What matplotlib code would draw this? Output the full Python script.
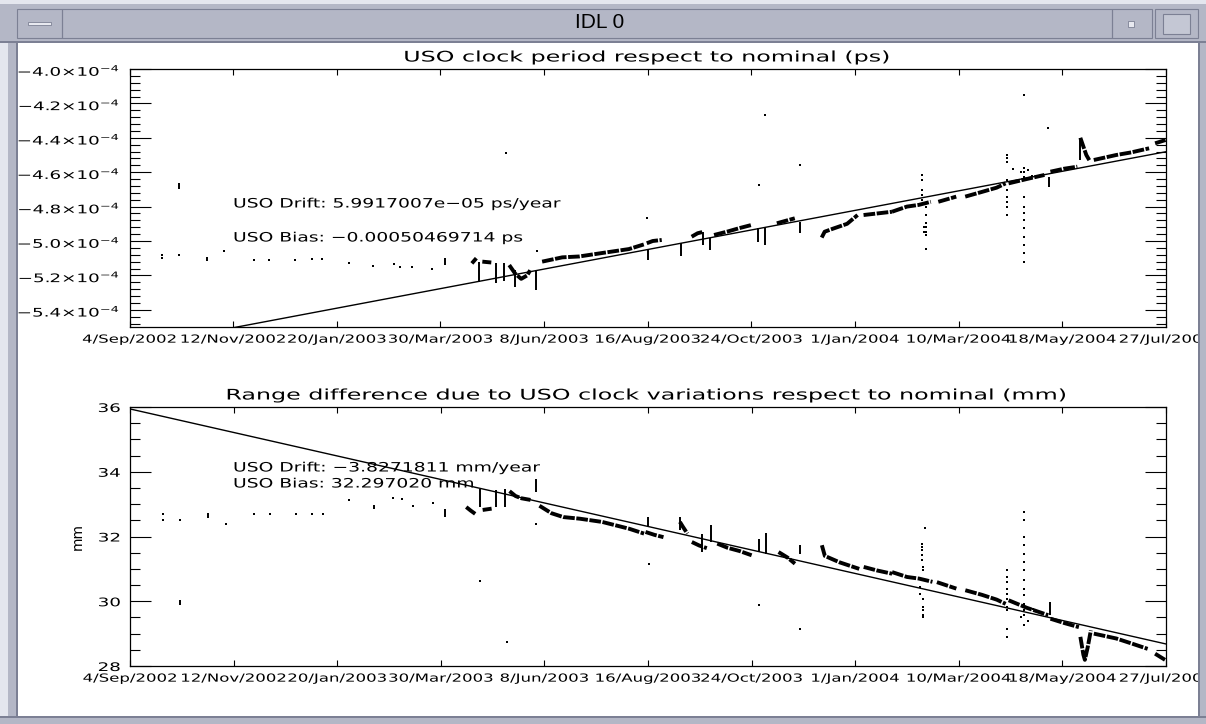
import numpy as np
import matplotlib
matplotlib.use('Agg')
import matplotlib.pyplot as plt
from matplotlib.patches import Rectangle
from matplotlib.transforms import Affine2D
from matplotlib.patheffects import AbstractPathEffect

# ------------------------------------------------------------------ data
XTICK_LABELS = ['4/Sep/2002', '12/Nov/2002', '20/Jan/2003', '30/Mar/2003',
                '8/Jun/2003', '16/Aug/2003', '24/Oct/2003', '1/Jan/2004',
                '10/Mar/2004', '18/May/2004', '27/Jul/2004']
X_SPAN_DAYS = 693.3          # days from 4/Sep/2002 to 27/Jul/2004

WINDOW_TITLE = 'IDL 0'
TOP_TITLE = 'USO clock period respect to nominal (ps)'
BOT_TITLE = 'Range difference due to USO clock variations respect to nominal (mm)'
TOP_NOTES = ['USO Drift: 5.9917007e\u221205 ps/year', 'USO Bias: \u22120.00050469714 ps']
BOT_NOTES = ['USO Drift: \u22123.8271811 mm/year', 'USO Bias: 32.297020 mm']
BOT_YLABEL = 'mm'

TOP_YTICKS = [-5.4, -5.2, -5.0, -4.8, -4.6, -4.4, -4.2, -4.0]   # units of 1e-4 ps
BOT_YTICKS = [28, 30, 32, 34, 36]

# --- top panel: clock period respect to nominal (units of 1e-4 ps)
TOP_PT_DAY = [0, 22, 22, 33, 63, 83, 93, 110.5, 122, 128.5, 147, 163, 177, 181,
              189, 202.5, 251.6, 272.8, 346, 421, 425, 448.5, 533, 614.5]
TOP_PT_VAL = [-5.072, -5.08, -5.10, -5.081, -5.056, -5.11, -5.11, -5.11, -5.106,
              -5.106, -5.13, -5.145, -5.134, -5.15, -5.15, -5.165, -4.49, -5.056,
              -4.868, -4.674, -4.267, -4.558, -5.048, -4.345]
TOP_SPIKE_DAY = [33, 52, 211, 233.8, 245, 250.5, 258, 271.7, 346.6, 368.7,
                 383.8, 388, 420.6, 425, 448.5, 615, 636]
TOP_SPIKE_LO = [-4.70, -5.115, -5.14, -5.237, -5.245, -5.23, -5.266, -5.285, -5.11,
                -5.09, -5.023, -5.052, -5.004, -5.023, -4.955, -4.684, -4.53]
TOP_SPIKE_HI = [-4.66, -5.095, -5.10, -5.12, -5.13, -5.13, -5.17, -5.17, -5.052,
                -5.01, -4.946, -4.985, -4.926, -4.917, -4.888, -4.626, -4.40]
TOP_SCAT_DAY = [530, 530, 530, 530, 530, 533, 533, 533, 533, 533, 533, 531.5, 531.5,
                587, 587, 587, 587, 587, 587, 587, 587, 587,
                598, 598, 598, 598, 598, 598, 598, 598, 598, 598, 598, 598, 598,
                591, 596, 601, 604]
TOP_SCAT_VAL = [-4.616, -4.645, -4.703, -4.733, -4.762, -4.80, -4.849, -4.897, -4.917,
                -4.946, -4.965, -4.92, -4.95,
                -4.50, -4.519, -4.539, -4.645, -4.703, -4.742, -4.772, -4.80, -4.849,
                -4.151, -4.577, -4.597, -4.626, -4.742, -4.80, -4.839, -4.878, -4.926,
                -4.975, -5.023, -5.072, -5.12,
                -4.58, -4.60, -4.59, -4.62]
TOP_SEGMENTS = [
    [(229, -5.13), (232, -5.10)],
    [(236, -5.12), (242, -5.125)],
    [(254, -5.14), (258, -5.19), (262, -5.22), (266, -5.20), (268, -5.17)],
    [(276, -5.12), (289.5, -5.095), (300.7, -5.09), (316, -5.07), (334, -5.047), (344, -5.02)],
    [(346, -5.013), (350, -5.00), (356, -4.994)],
    [(376, -4.975), (380, -4.955), (384, -4.946)],
    [(391, -4.965), (400, -4.945), (408, -4.925), (416, -4.907)],
    [(433, -4.897), (440, -4.88), (445, -4.868)],
    [(463, -4.98), (465, -4.946), (470, -4.93), (480, -4.90), (487, -4.849)],
    [(491, -4.849), (500, -4.84), (510, -4.83)],
    [(510, -4.83), (520, -4.80), (528, -4.79), (536, -4.772)],
    [(541, -4.772), (553, -4.742)],
    [(559, -4.742), (570, -4.715), (580, -4.69), (586, -4.665)],
    [(588, -4.665), (600, -4.64), (612, -4.616)],
    [(616, -4.597), (625, -4.58), (634, -4.568)],
    [(636, -4.40), (638, -4.45), (640, -4.50), (642, -4.53)],
    [(645, -4.529), (660, -4.50), (670, -4.485), (682, -4.461)],
    [(686, -4.432), (693, -4.413)],
]
TOP_FIT_DAY = [0, 693.3]
TOP_FIT_VAL = [-5.618, -4.481]

# --- bottom panel: range difference (mm)
BOT_PT_DAY = [0, 22, 22, 33.4, 64, 83, 94, 111, 122, 129, 146.7, 176, 182, 189.5,
              202.5, 234.5, 252, 272, 347, 420.6, 448.5]
BOT_PT_VAL = [32.45, 32.70, 32.50, 32.50, 32.38, 32.70, 32.68, 32.68, 32.68, 32.68,
              33.14, 33.20, 33.17, 32.93, 33.03, 30.62, 28.74, 32.38, 31.14, 29.87, 29.15]
BOT_SPIKE_DAY = [33.4, 52, 163, 211, 234.5, 245, 251, 272, 346.6, 368, 383, 388.6,
                 420.6, 425.6, 448.5, 615.5]
BOT_SPIKE_LO = [29.87, 32.57, 32.85, 32.60, 32.91, 32.91, 32.91, 33.37, 32.29, 32.20,
                31.52, 31.83, 31.52, 31.47, 31.47, 29.57]
BOT_SPIKE_HI = [30.05, 32.73, 32.97, 32.86, 33.48, 33.44, 33.48, 33.79, 32.60, 32.60,
                32.09, 32.35, 31.93, 32.11, 31.73, 29.98]
BOT_SCAT_DAY = [532, 530, 530, 530, 530, 530, 531, 531, 529, 529, 531, 531, 531, 531, 531,
                587, 587, 587, 587, 587, 587, 587, 587, 587, 587,
                598, 598, 598, 598, 598, 598, 598, 598, 598, 598, 598, 598, 598, 598,
                592, 596, 601, 604]
BOT_SCAT_VAL = [32.27, 31.78, 31.68, 31.57, 31.42, 31.26, 31.06, 30.95, 30.44, 30.23,
                30.08, 29.82, 29.72, 29.57, 29.51,
                30.95, 30.75, 30.59, 30.39, 30.23, 30.08, 29.82, 29.72, 29.15, 28.90,
                32.76, 32.50, 31.98, 31.73, 31.47, 31.21, 30.95, 30.65, 30.39, 30.18,
                29.92, 29.72, 29.57, 29.26,
                29.95, 29.50, 29.40, 29.75]
BOT_SEGMENTS = [
    [(225, 32.91), (228, 32.80), (231, 32.70)],
    [(236, 32.82), (242, 32.86)],
    [(254, 33.40), (258, 33.25), (262, 33.18), (268, 33.13)],
    [(274, 32.95), (282, 32.72), (290, 32.60), (301, 32.55), (316, 32.45), (334, 32.24), (344, 32.09)],
    [(345, 32.14), (351, 32.05), (357, 31.98)],
    [(368, 32.45), (370, 32.30), (373, 32.09)],
    [(376, 31.83), (381, 31.72), (386, 31.64)],
    [(393, 31.78), (400, 31.65), (408, 31.55), (416, 31.42)],
    [(434, 31.52), (440, 31.35), (445, 31.16)],
    [(463, 31.73), (465, 31.40), (475, 31.20), (488, 31.00)],
    [(491, 31.06), (500, 30.95), (510, 30.85)],
    [(510, 30.90), (520, 30.75), (528, 30.70), (537, 30.60)],
    [(540, 30.59), (553, 30.39)],
    [(559, 30.34), (570, 30.20), (580, 30.05), (586, 29.92)],
    [(588, 30.03), (600, 29.80), (614.5, 29.57)],
    [(616, 29.46), (625, 29.33), (635, 29.20)],
    [(636, 28.90), (638, 28.35), (639, 28.19), (641, 28.60), (643, 29.10)],
    [(645, 29.00), (660, 28.85), (670, 28.70), (681, 28.53)],
    [(686, 28.38), (693, 28.18)],
]
BOT_FIT_DAY = [0, 693.3]
BOT_FIT_VAL = [35.94, 28.68]

# ------------------------------------------------------------------ style helpers
W, H = 1206, 724
XTICK_SX = 1.49
YTICK_SX = 1.55
NOTE_SX = 1.45
TITLE_SX = 1.63
FRAME = '#b4b7c6'
FRAME_DARK = '#7c8094'
FRAME_LIGHT = '#e4e6ee'


class Stretch(AbstractPathEffect):
    """Horizontally widen glyphs (IDL vector-font look)."""
    def __init__(self, sx, anchor='left'):
        super().__init__()
        self.sx = sx
        self.anchor = anchor

    def draw_path(self, renderer, gc, tpath, affine, rgbFace=None):
        ext = tpath.get_extents()
        if self.anchor == 'center':
            a = 0.5 * (ext.x0 + ext.x1)
        elif self.anchor == 'right':
            a = ext.x1
        else:
            a = 0.0
        t = Affine2D().translate(-a, 0).scale(self.sx, 1.0).translate(a, 0) + affine
        renderer.draw_path(gc, tpath, t, rgbFace)


plt.rcParams['font.family'] = ['DejaVu Sans']
plt.rcParams['mathtext.fontset'] = 'dejavusans'

fig = plt.figure(figsize=(W / 100, H / 100), dpi=100)
fig.patch.set_facecolor('white')
PX = Affine2D().scale(1.0 / W, -1.0 / H).translate(0, 1) + fig.transFigure


def ax_rect(x0, y0, x1, y1):
    return [x0 / W, 1 - y1 / H, (x1 - x0) / W, (y1 - y0) / H]


def stext(x, y, s, size, sx, ha='left', va='center', **kw):
    t = fig.text(x, y, s, transform=PX, fontsize=size, ha=ha, va=va, color='k', **kw)
    t.set_path_effects([Stretch(sx, ha)])
    return t


ax1 = fig.add_axes(ax_rect(129.5, 69, 1166, 327))
ax2 = fig.add_axes(ax_rect(130, 407, 1166, 666))


def draw_panel(ax, pt_d, pt_v, sp_d, sp_lo, sp_hi, sc_d, sc_v, segs, fit_d, fit_v):
    ax.plot(fit_d, fit_v, color='k', lw=1.0)
    for seg in segs:
        d, v = zip(*seg)
        ax.plot(d, v, color='k', lw=2.8, solid_capstyle='butt', dashes=(3.0, 0.4))
    ax.vlines(sp_d, sp_lo, sp_hi, color='k', lw=1.4)
    ax.plot(pt_d, pt_v, ls='none', marker='s', ms=2.0, mew=0, color='k')
    ax.plot(sc_d, sc_v, ls='none', marker='s', ms=1.6, mew=0, color='k')


draw_panel(ax1, TOP_PT_DAY, TOP_PT_VAL, TOP_SPIKE_DAY, TOP_SPIKE_LO, TOP_SPIKE_HI,
           TOP_SCAT_DAY, TOP_SCAT_VAL, TOP_SEGMENTS, TOP_FIT_DAY, TOP_FIT_VAL)
draw_panel(ax2, BOT_PT_DAY, BOT_PT_VAL, BOT_SPIKE_DAY, BOT_SPIKE_LO, BOT_SPIKE_HI,
           BOT_SCAT_DAY, BOT_SCAT_VAL, BOT_SEGMENTS, BOT_FIT_DAY, BOT_FIT_VAL)

xt = np.linspace(0, X_SPAN_DAYS, len(XTICK_LABELS))
for ax in (ax1, ax2):
    ax.set_xlim(0, X_SPAN_DAYS)
    ax.set_xticks(xt, XTICK_LABELS)
    ax.tick_params(axis='x', which='major', direction='in', length=4.3, width=0.8,
                   top=True, bottom=True, pad=5.5, labelsize=8)
    ax.tick_params(axis='y', which='major', direction='in', length=15, width=0.8,
                   left=True, right=True, pad=7, labelsize=8.5)
    ax.tick_params(axis='y', which='minor', direction='in', length=7.5, width=0.8,
                   left=True, right=True)
    for s in ax.spines.values():
        s.set_linewidth(0.9)

ax1.set_ylim(-5.5, -4.0)
ax1.set_yticks(TOP_YTICKS, [r'$-%.1f{\times}10^{-4}$' % abs(v) for v in TOP_YTICKS])
ax1.set_yticks(np.arange(-5.48, -4.0, 0.04), minor=True)
ax2.set_ylim(28, 36)
ax2.set_yticks(BOT_YTICKS, [str(v) for v in BOT_YTICKS])
ax2.set_yticks(np.arange(28, 36.01, 0.5), minor=True)

for ax in (ax1, ax2):
    for t in ax.xaxis.get_major_ticks():
        t.label1.set_path_effects([Stretch(XTICK_SX, 'center')])
    for t in ax.yaxis.get_major_ticks():
        t.label1.set_path_effects([Stretch(YTICK_SX, 'right')])

ax2.set_ylabel(BOT_YLABEL, fontsize=10, labelpad=15)

# titles and annotations
stext(647.5, 57, TOP_TITLE, 10.5, TITLE_SX, ha='center')
stext(647.5, 395, BOT_TITLE, 10.5, TITLE_SX, ha='center')
stext(233, 204, TOP_NOTES[0], 9.3, NOTE_SX)
stext(233, 238, TOP_NOTES[1], 9.3, NOTE_SX)
stext(233, 468, BOT_NOTES[0], 9.3, NOTE_SX)
stext(233, 484, BOT_NOTES[1], 9.3, NOTE_SX)

# ------------------------------------------------------------------ window chrome
def prect(x0, y0, x1, y1, fc, ec='none', lw=0, z=5):
    r = Rectangle((x0, y0), x1 - x0, y1 - y0, transform=PX, facecolor=fc,
                  edgecolor=ec, linewidth=lw, zorder=z)
    fig.add_artist(r)
    return r

prect(0, 0, W, 43, FRAME)                       # title bar
prect(0, 0, W, 4, FRAME_LIGHT)
prect(0, 41, W, 43, FRAME_DARK)
prect(0, 43, 8, H, FRAME_LIGHT)                 # left border
prect(8, 43, 17, H, FRAME)
prect(16, 43, 17.5, H, FRAME_DARK)
prect(1199, 43, W, H, FRAME)                    # right border
prect(1198, 43, 1199.5, H, FRAME_DARK)
prect(0, 717, W, H, FRAME)                      # bottom border
prect(0, 716, W, 717.5, FRAME_DARK)
# title-bar buttons
prect(17, 9, 62, 38, 'none', FRAME_DARK, 0.8, z=6)
prect(28, 22, 51, 25, '#e8e9f0', FRAME_DARK, 0.6, z=6)
prect(1112, 9, 1152, 38, 'none', FRAME_DARK, 0.8, z=6)
prect(1128, 21, 1134, 27, '#e8e9f0', FRAME_DARK, 0.6, z=6)
prect(1155, 9, 1198, 38, 'none', FRAME_DARK, 0.8, z=6)
prect(1163, 14, 1190, 34, '#c4c7d4', FRAME_DARK, 0.8, z=6)
prect(62, 9, 1112, 38, 'none', FRAME_DARK, 0.8, z=6)
fig.text(600, 23, WINDOW_TITLE, transform=PX, fontsize=15, ha='center', va='center',
         family=['Liberation Sans Narrow', 'Liberation Sans'], color='k', zorder=7)

fig.savefig('out.png', dpi=100, facecolor='white')
